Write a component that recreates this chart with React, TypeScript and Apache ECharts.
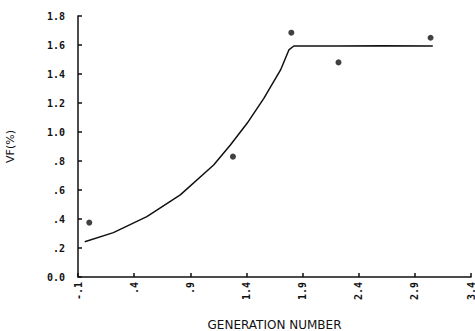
import React, { useEffect, useRef } from "react";
import * as echarts from "echarts";

// Fitted curve: [generation, VF %]
const curveX = [-0.04, 0.215, 0.513, 0.811, 1.108, 1.257, 1.406, 1.555, 1.704, 1.778, 1.822, 2.2, 2.6, 3.06];
const curveY = [0.243, 0.306, 0.416, 0.566, 0.772, 0.91, 1.06, 1.232, 1.428, 1.566, 1.593, 1.593, 1.595, 1.593];

// Measured points
const pointX = [0.0, 1.28, 1.8, 2.22, 3.04];
const pointY = [0.375, 0.83, 1.685, 1.48, 1.65];

const xName = "GENERATION NUMBER";
const yName = "VF(%)";

const fmt = (v: number) => {
  const s = (Math.round(v * 10) / 10).toFixed(1);
  if (s === "0.0") return s;
  return s.replace(/^(-?)0\./, "$1.");
};

export default function App() {
  const ref = useRef<HTMLDivElement>(null);
  useEffect(() => {
    if (!ref.current) return;
    const chart = echarts.init(ref.current, null, { renderer: "svg" });
    const font = "DejaVu Sans Mono";
    chart.setOption({
      animation: false,
      backgroundColor: "#ffffff",
      grid: { left: 78, right: 4, top: 16, bottom: 54, containLabel: false, outerBoundsMode: "none" },
      xAxis: {
        type: "value",
        min: -0.1,
        max: 3.4,
        interval: 0.5,
        name: xName,
        nameLocation: "middle",
        nameGap: 42,
        nameTextStyle: { color: "#111", fontFamily: "DejaVu Sans", fontSize: 12 },
        axisLine: { show: true, onZero: false, lineStyle: { color: "#111", width: 1.5 } },
        axisTick: { show: true, inside: true, length: 4, lineStyle: { color: "#111", width: 1.5 } },
        splitLine: { show: false },
        axisLabel: {
          rotate: 90,
          margin: 5,
          color: "#111",
          fontFamily: font,
          fontWeight: "bold",
          fontSize: 10,
          formatter: fmt,
        },
      },
      yAxis: {
        type: "value",
        min: 0,
        max: 1.8,
        interval: 0.2,
        name: yName,
        nameLocation: "middle",
        nameRotate: 90,
        nameGap: 62,
        nameTextStyle: { color: "#111", fontFamily: "DejaVu Sans", fontSize: 11 },
        axisLine: { show: true, onZero: false, lineStyle: { color: "#111", width: 1.5 } },
        axisTick: { show: true, inside: true, length: 4, lineStyle: { color: "#111", width: 1.5 } },
        splitLine: { show: false },
        axisLabel: {
          margin: 13,
          color: "#111",
          fontFamily: font,
          fontWeight: "bold",
          fontSize: 10,
          formatter: fmt,
        },
      },
      series: [
        {
          type: "line",
          data: curveX.map((x, i) => [x, curveY[i]]),
          showSymbol: false,
          symbol: "none",
          smooth: false,
          lineStyle: { color: "#111", width: 1.5 },
          z: 2,
        },
        {
          type: "scatter",
          data: pointX.map((x, i) => [x, pointY[i]]),
          symbol: "circle",
          symbolSize: 6,
          itemStyle: { color: "#111" },
          z: 3,
        },
      ],
    });
    return () => chart.dispose();
  }, []);
  return <div ref={ref} style={{ width: 475, height: 331, position: "absolute", left: 0, top: 0 }} />;
}
